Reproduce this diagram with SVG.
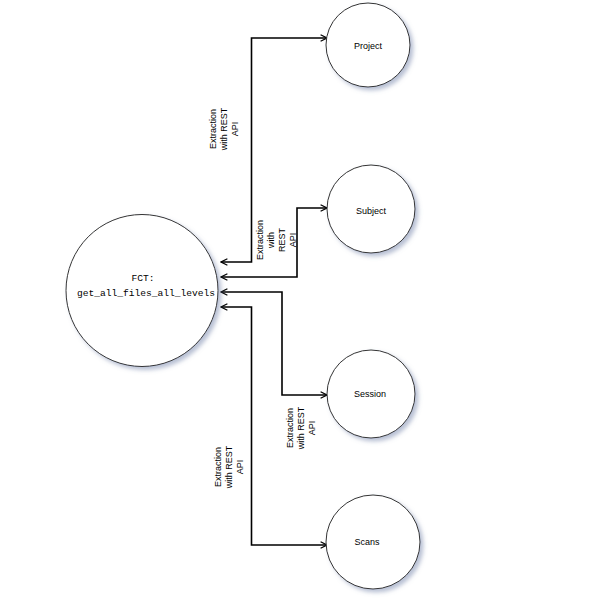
<svg xmlns="http://www.w3.org/2000/svg" width="592" height="613" viewBox="0 0 592 613">
<style>
.node circle{fill:#ffffff;stroke:#333333;stroke-width:1;filter:url(#sh)}
.nl{font-family:"Liberation Sans",Arial,sans-serif;font-size:9px;fill:#000;text-anchor:middle}
.mono{font-family:"Liberation Mono","DejaVu Sans Mono",monospace;font-size:9.6px;fill:#000;text-anchor:middle}
.conn path{fill:none;stroke:#000;stroke-width:1.6;marker-start:url(#ah);marker-end:url(#ah)}
.lbl{font-family:"Liberation Sans",Arial,sans-serif;font-size:9px;fill:#000;text-anchor:middle}
</style>
<defs>
<filter id="sh" x="-20%" y="-20%" width="150%" height="150%">
<feDropShadow dx="3" dy="3" stdDeviation="2" flood-color="#7080a8" flood-opacity="0.5"/>
</filter>
<marker id="ah" viewBox="0 0 10 10" refX="9" refY="5" markerWidth="8" markerHeight="8" markerUnits="userSpaceOnUse" orient="auto-start-reverse">
<path d="M1,1 L9,5 L1,9" fill="none" stroke="#000" stroke-width="1.6"/>
</marker>
</defs>
<rect width="592" height="613" fill="#ffffff"/>
<g id="connectors" class="conn">
<path d="M221,262 H251.5 V38 H327"/>
<path d="M221,277 H297 V208 H327"/>
<path d="M221,292 H282 V395 H327"/>
<path d="M221,307 H251.5 V545 H327"/>
</g>
<g id="labels">
<text class="lbl" transform="translate(223,129) rotate(-90)"><tspan x="0" y="-7">Extraction</tspan><tspan x="0" y="4">with REST</tspan><tspan x="0" y="15">API</tspan></text>
<text class="lbl" transform="translate(276,240) rotate(-90)"><tspan x="0" y="-13">Extraction</tspan><tspan x="0" y="-2">with</tspan><tspan x="0" y="9">REST</tspan><tspan x="0" y="20">API</tspan></text>
<text class="lbl" transform="translate(300,428) rotate(-90)"><tspan x="0" y="-7">Extraction</tspan><tspan x="0" y="4">with REST</tspan><tspan x="0" y="15">API</tspan></text>
<text class="lbl" transform="translate(228,467) rotate(-90)"><tspan x="0" y="-7">Extraction</tspan><tspan x="0" y="4">with REST</tspan><tspan x="0" y="15">API</tspan></text>
</g>
<g id="fct" class="node">
<circle cx="142" cy="290.5" r="76"/>
<text class="mono" x="143" y="281">FCT:</text>
<text class="mono" x="146" y="296">get_all_files_all_levels</text>
</g>
<g id="project" class="node">
<circle cx="368" cy="45" r="42"/>
<text class="nl" x="368" y="49">Project</text>
</g>
<g id="subject" class="node">
<circle cx="371" cy="209" r="44"/>
<text class="nl" x="371" y="214">Subject</text>
</g>
<g id="session" class="node">
<circle cx="371" cy="394" r="44"/>
<text class="nl" x="370" y="397">Session</text>
</g>
<g id="scans" class="node">
<circle cx="373" cy="542" r="47"/>
<text class="nl" x="367" y="545">Scans</text>
</g>
</svg>
